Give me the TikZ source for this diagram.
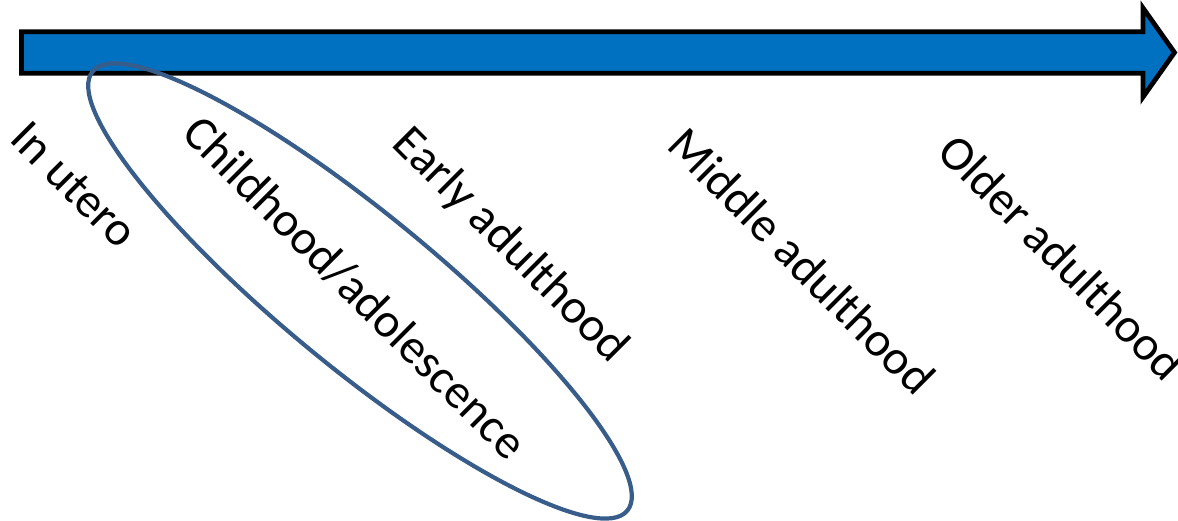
\documentclass[tikz,border=0pt]{standalone}
\usepackage{fontspec}
\setmainfont{Carlito}
\definecolor{arrowblue}{HTML}{0070C0}
\definecolor{ringblue}{HTML}{385D8A}
\begin{document}
\begin{tikzpicture}[x=1pt,y=-1pt,
  lbl/.style={rotate=-45,inner sep=0pt,font=\fontsize{48.5}{58}\selectfont,text=black},
  timeline/.style={draw=black,line width=4.8pt,fill=arrowblue,line join=miter,miter limit=10},
  ring/.style={draw=ringblue,line width=4.2pt}]
\useasboundingbox (0,0) rectangle (1178,521);
% arrow
\draw[timeline] (21.5,31.7) -- (1143,31.7) -- (1143,8) -- (1174.5,52.5) -- (1143,97) -- (1143,73.3) -- (21.5,73.3) -- cycle;
% ellipse
\draw[ring] (360,291) ellipse [x radius=346pt, y radius=77pt, rotate=-39.4];
% labels
\node[lbl] (inutero) at (74,185) {In utero};
\node[lbl] (child) at (355,288) {Childhood/adolescence};
\node[lbl] (early) at (510,246) {Early adulthood};
\node[lbl] (middle) at (802,261) {Middle adulthood};
\node[lbl] (older) at (1062,257) {Older adulthood};
\end{tikzpicture}
\end{document}
